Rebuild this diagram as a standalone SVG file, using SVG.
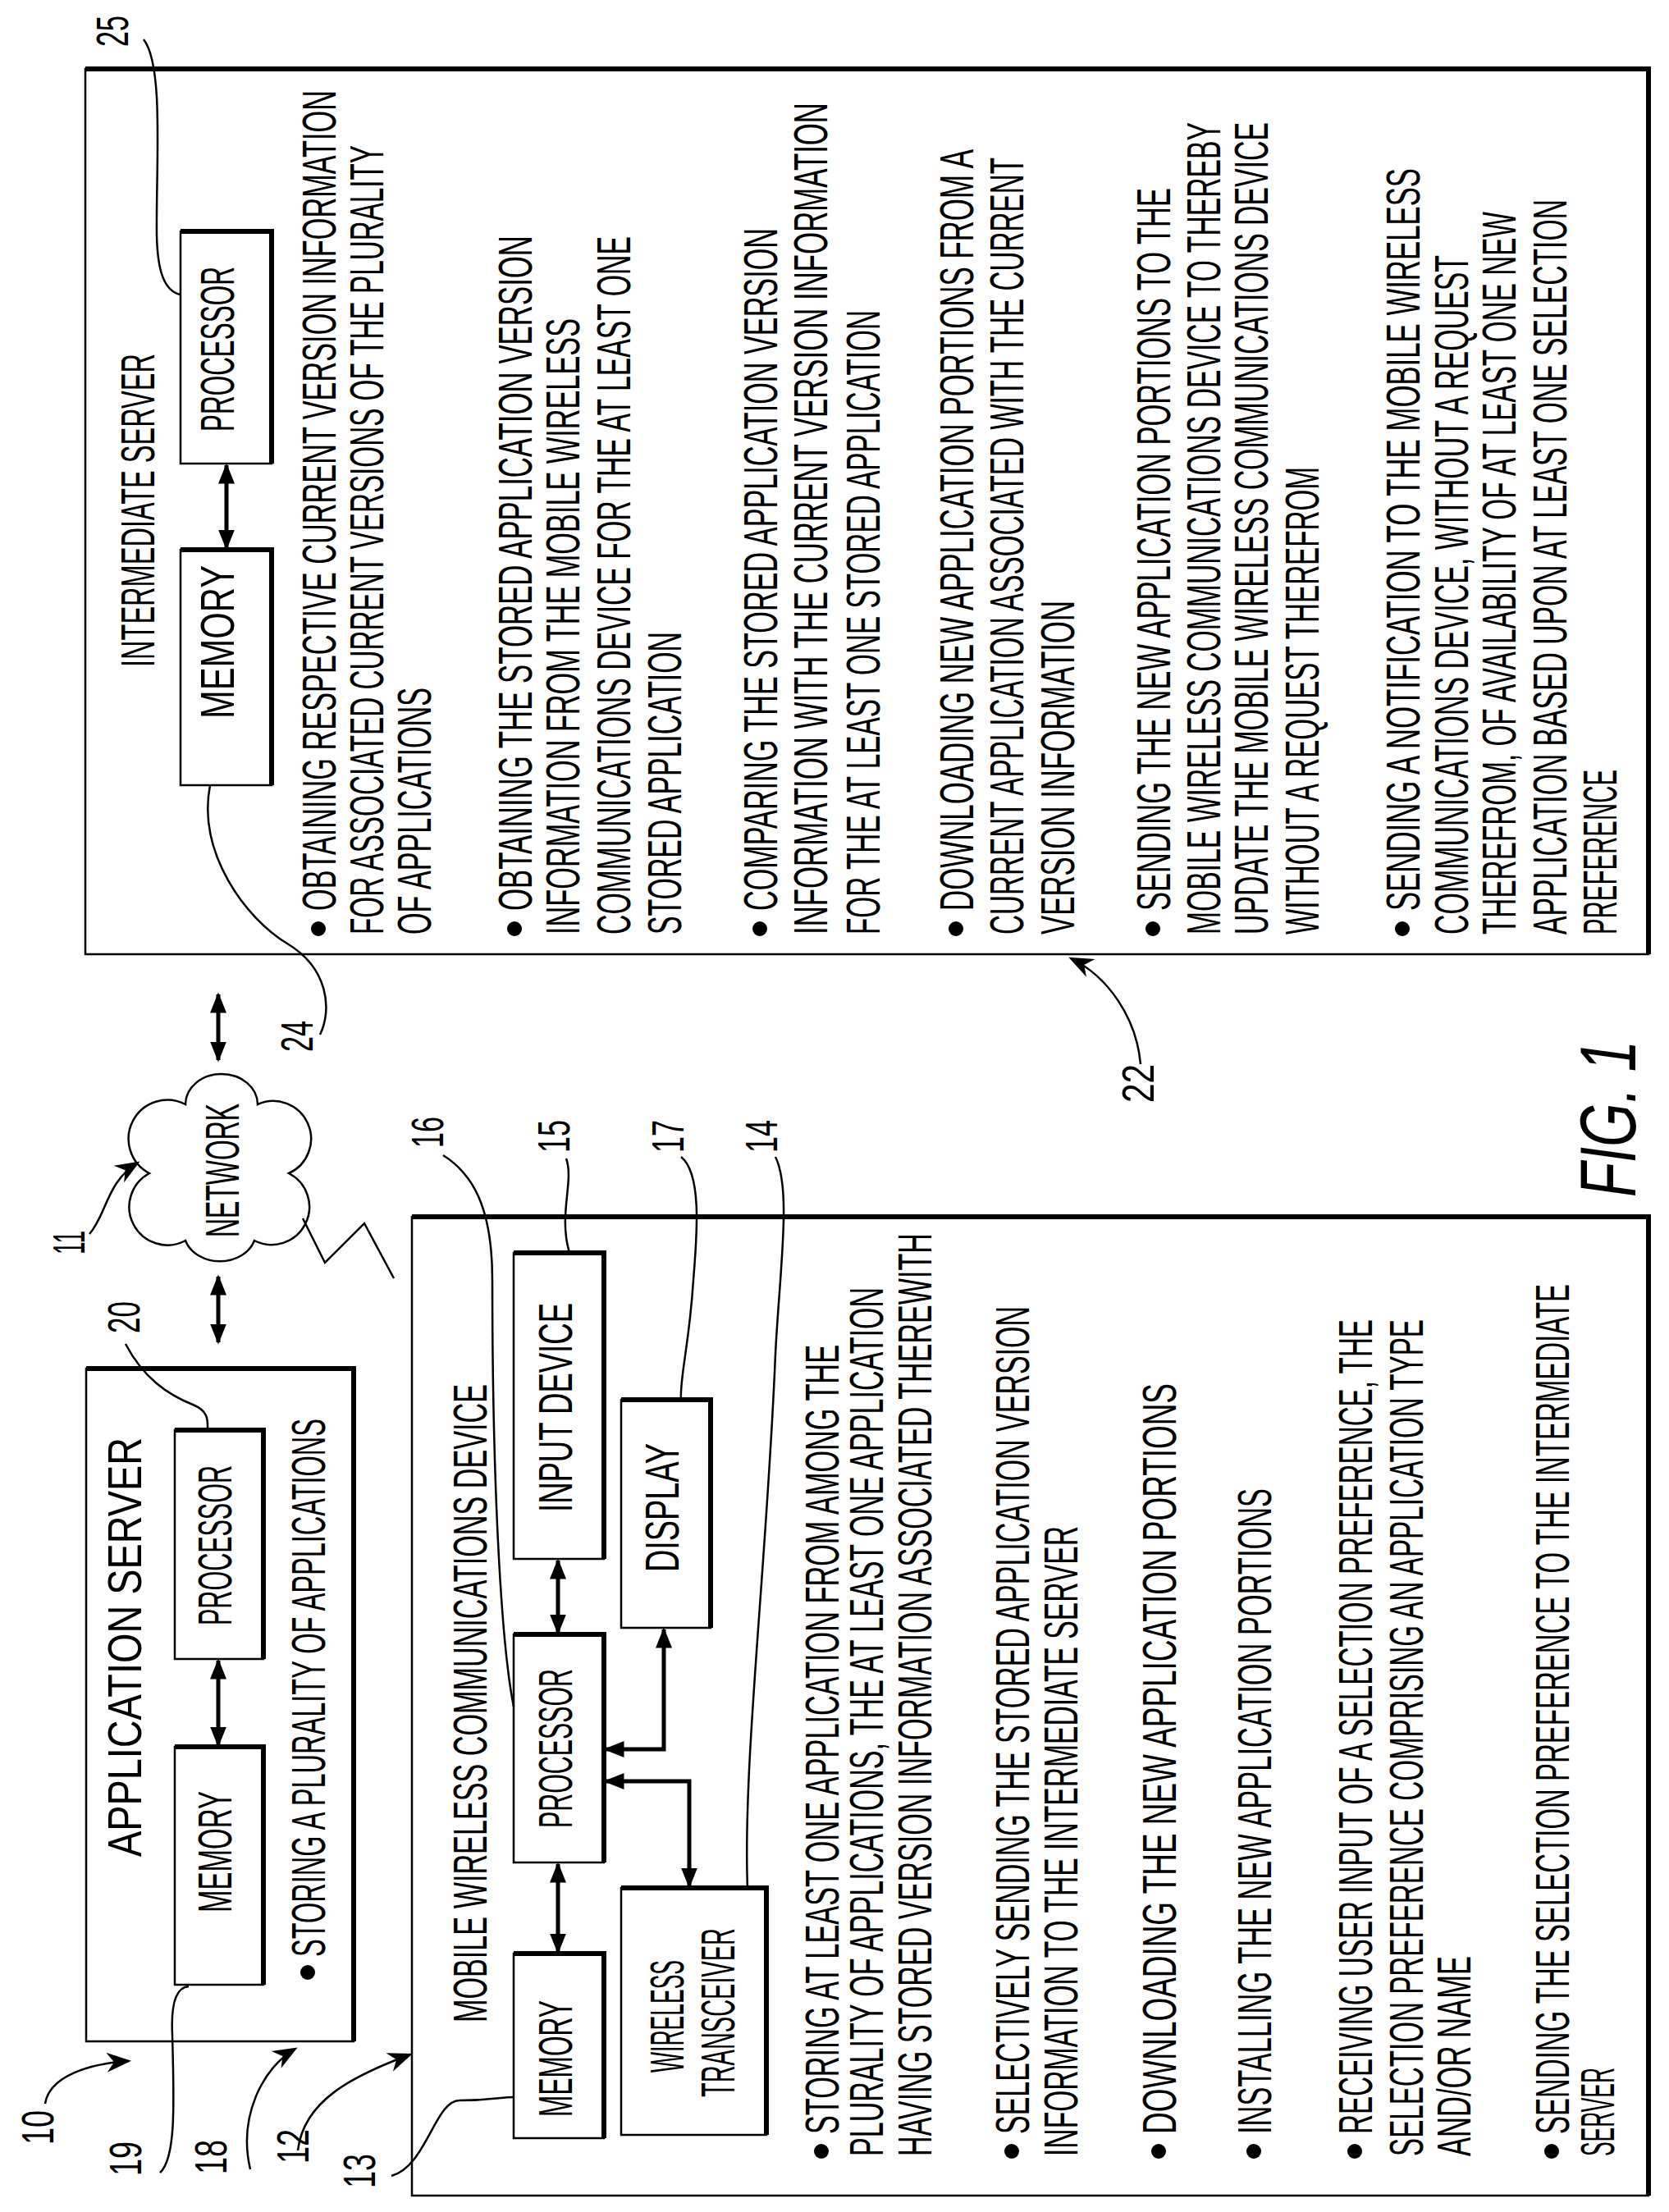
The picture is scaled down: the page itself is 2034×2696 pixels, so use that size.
<svg xmlns="http://www.w3.org/2000/svg" width="2034" height="2696" viewBox="0 0 2034 2696">
<style>
.t{font-family:"Liberation Sans Narrow","Liberation Sans",Arial,sans-serif;font-size:58px;fill:#000}
.lb{font-family:"Liberation Sans Narrow","Liberation Sans",Arial,sans-serif;font-size:56px;fill:#000}
.box{fill:#fff;stroke:#000;stroke-width:2.5}
.sh{stroke:#000;stroke-width:6;fill:none}
.ln{fill:none;stroke:#000;stroke-width:2.5}
.ar{fill:none;stroke:#000;stroke-width:5}
.dot{fill:#000}
</style>
<defs>
<marker id="h" viewBox="0 0 10 10" refX="9" refY="5" markerWidth="5" markerHeight="5" orient="auto-start-reverse" markerUnits="strokeWidth"><path d="M0,1 L10,5 L0,9 z" fill="#000"/></marker>
<marker id="hs" viewBox="0 0 10 10" refX="9" refY="5" markerWidth="12" markerHeight="12" orient="auto" markerUnits="strokeWidth"><path d="M0,1 L10,5 L0,9 L3,5 z" fill="#000"/></marker>
</defs>

<g id="intermediate-server">
<rect class="box" x="104" y="84" width="1905" height="1079"/>
<path class="sh" d="M104,84 H2009 V1163"/>
<text class="t" transform="translate(188,813) rotate(-90)" textLength="382" lengthAdjust="spacingAndGlyphs">INTERMEDIATE SERVER</text>
<g id="int-memory"><rect class="box" x="220" y="670" width="111" height="287"/><path class="sh" d="M220,670 H331 V957"/>
<text class="t" transform="translate(285,876) rotate(-90)" textLength="187" lengthAdjust="spacingAndGlyphs">MEMORY</text></g>
<g id="int-processor"><rect class="box" x="220" y="282" width="111" height="283"/><path class="sh" d="M220,282 H331 V565"/>
<text class="t" transform="translate(285,526) rotate(-90)" textLength="201" lengthAdjust="spacingAndGlyphs">PROCESSOR</text></g>
<circle class="dot" cx="388" cy="1132" r="9"/>
<text class="t" transform="translate(409,1110) rotate(-90)" textLength="1000" lengthAdjust="spacingAndGlyphs">OBTAINING RESPECTIVE CURRENT VERSION INFORMATION</text>
<text class="t" transform="translate(467,1139) rotate(-90)" textLength="962" lengthAdjust="spacingAndGlyphs">FOR ASSOCIATED CURRENT VERSIONS OF THE PLURALITY</text>
<text class="t" transform="translate(525,1139) rotate(-90)" textLength="301" lengthAdjust="spacingAndGlyphs">OF APPLICATIONS</text>
<circle class="dot" cx="627" cy="1132" r="9"/>
<text class="t" transform="translate(648,1110) rotate(-90)" textLength="823" lengthAdjust="spacingAndGlyphs">OBTAINING THE STORED APPLICATION VERSION</text>
<text class="t" transform="translate(706,1139) rotate(-90)" textLength="751" lengthAdjust="spacingAndGlyphs">INFORMATION FROM THE MOBILE WIRELESS</text>
<text class="t" transform="translate(768,1139) rotate(-90)" textLength="851" lengthAdjust="spacingAndGlyphs">COMMUNICATIONS DEVICE FOR THE AT LEAST ONE</text>
<text class="t" transform="translate(830,1139) rotate(-90)" textLength="369" lengthAdjust="spacingAndGlyphs">STORED APPLICATION</text>
<circle class="dot" cx="926" cy="1132" r="9"/>
<text class="t" transform="translate(947,1110) rotate(-90)" textLength="832" lengthAdjust="spacingAndGlyphs">COMPARING THE STORED APPLICATION VERSION</text>
<text class="t" transform="translate(1008,1139) rotate(-90)" textLength="1014" lengthAdjust="spacingAndGlyphs">INFORMATION WITH THE CURRENT VERSION INFORMATION</text>
<text class="t" transform="translate(1072,1139) rotate(-90)" textLength="761" lengthAdjust="spacingAndGlyphs">FOR THE AT LEAST ONE STORED APPLICATION</text>
<circle class="dot" cx="1165" cy="1132" r="9"/>
<text class="t" transform="translate(1186,1110) rotate(-90)" textLength="928" lengthAdjust="spacingAndGlyphs">DOWNLOADING NEW APPLICATION PORTIONS FROM A</text>
<text class="t" transform="translate(1247,1139) rotate(-90)" textLength="947" lengthAdjust="spacingAndGlyphs">CURRENT APPLICATION ASSOCIATED WITH THE CURRENT</text>
<text class="t" transform="translate(1309,1139) rotate(-90)" textLength="407" lengthAdjust="spacingAndGlyphs">VERSION INFORMATION</text>
<circle class="dot" cx="1405" cy="1132" r="9"/>
<text class="t" transform="translate(1426,1110) rotate(-90)" textLength="881" lengthAdjust="spacingAndGlyphs">SENDING THE NEW APPLICATION PORTIONS TO THE</text>
<text class="t" transform="translate(1487,1139) rotate(-90)" textLength="990" lengthAdjust="spacingAndGlyphs">MOBILE WIRELESS COMMUNICATIONS DEVICE TO THEREBY</text>
<text class="t" transform="translate(1545,1139) rotate(-90)" textLength="990" lengthAdjust="spacingAndGlyphs">UPDATE THE MOBILE WIRELESS COMMUNICATIONS DEVICE</text>
<text class="t" transform="translate(1607,1139) rotate(-90)" textLength="570" lengthAdjust="spacingAndGlyphs">WITHOUT A REQUEST THEREFROM</text>
<circle class="dot" cx="1709" cy="1132" r="9"/>
<text class="t" transform="translate(1730,1110) rotate(-90)" textLength="905" lengthAdjust="spacingAndGlyphs">SENDING A NOTIFICATION TO THE MOBILE WIRELESS</text>
<text class="t" transform="translate(1789,1139) rotate(-90)" textLength="828" lengthAdjust="spacingAndGlyphs">COMMUNICATIONS DEVICE, WITHOUT A REQUEST</text>
<text class="t" transform="translate(1847,1139) rotate(-90)" textLength="881" lengthAdjust="spacingAndGlyphs">THEREFROM, OF AVAILABILITY OF AT LEAST ONE NEW</text>
<text class="t" transform="translate(1909,1139) rotate(-90)" textLength="896" lengthAdjust="spacingAndGlyphs">APPLICATION BASED UPON AT LEAST ONE SELECTION</text>
<text class="t" transform="translate(1970,1139) rotate(-90)" textLength="201" lengthAdjust="spacingAndGlyphs">PREFERENCE</text>
</g>

<g id="network">
<path class="ln" d="M226,1346 A44,37 0 0 1 314,1346 A46,46 0 0 1 352,1430 A46,46 0 0 1 310,1512 A44,36 0 0 1 226,1512 A46,46 0 0 1 182,1430 A46,46 0 0 1 226,1346 Z" fill="#fff"/>
<text class="t" transform="translate(291,1508) rotate(-90)" textLength="163" lengthAdjust="spacingAndGlyphs">NETWORK</text>
</g>

<g id="application-server">
<rect class="box" x="105" y="1668" width="326" height="820"/>
<path class="sh" d="M105,1668 H431 V2488"/>
<text class="t" transform="translate(172,2263) rotate(-90)" textLength="511" lengthAdjust="spacingAndGlyphs">APPLICATION SERVER</text>
<g id="app-processor"><rect class="box" x="213" y="1743" width="108" height="279"/><path class="sh" d="M213,1743 H321 V2022"/>
<text class="t" transform="translate(282,1981) rotate(-90)" textLength="195" lengthAdjust="spacingAndGlyphs">PROCESSOR</text></g>
<g id="app-memory"><rect class="box" x="213" y="2129" width="108" height="290"/><path class="sh" d="M213,2129 H321 V2419"/>
<text class="t" transform="translate(282,2331) rotate(-90)" textLength="148" lengthAdjust="spacingAndGlyphs">MEMORY</text></g>
<circle class="dot" cx="375" cy="2404" r="9"/>
<text class="t" transform="translate(396,2385) rotate(-90)" textLength="656" lengthAdjust="spacingAndGlyphs">STORING A PLURALITY OF APPLICATIONS</text>
</g>

<g id="mobile-device">
<rect class="box" x="502" y="1483" width="1507" height="1193"/>
<path class="sh" d="M502,1483 H2009 V2676"/>
<text class="t" transform="translate(593,2465) rotate(-90)" textLength="778" lengthAdjust="spacingAndGlyphs">MOBILE WIRELESS COMMUNICATIONS DEVICE</text>
<g id="mob-memory"><rect class="box" x="626" y="2381" width="110" height="225"/><path class="sh" d="M626,2381 H736 V2606"/>
<text class="t" transform="translate(697,2580) rotate(-90)" textLength="142" lengthAdjust="spacingAndGlyphs">MEMORY</text></g>
<g id="mob-processor"><rect class="box" x="626" y="1992" width="110" height="278"/><path class="sh" d="M626,1992 H736 V2270"/>
<text class="t" transform="translate(697,2228) rotate(-90)" textLength="194" lengthAdjust="spacingAndGlyphs">PROCESSOR</text></g>
<g id="mob-input"><rect class="box" x="626" y="1527" width="110" height="373"/><path class="sh" d="M626,1527 H736 V1900"/>
<text class="t" transform="translate(697,1843) rotate(-90)" textLength="255" lengthAdjust="spacingAndGlyphs">INPUT DEVICE</text></g>
<g id="mob-display"><rect class="box" x="757" y="1706" width="109" height="278"/><path class="sh" d="M757,1706 H866 V1984"/>
<text class="t" transform="translate(827,1916) rotate(-90)" textLength="157" lengthAdjust="spacingAndGlyphs">DISPLAY</text></g>
<g id="mob-transceiver"><rect class="box" x="757" y="2301" width="177" height="301"/><path class="sh" d="M757,2301 H934 V2602"/>
<text class="t" transform="translate(833,2526) rotate(-90)" textLength="137" lengthAdjust="spacingAndGlyphs">WIRELESS</text>
<text class="t" transform="translate(895,2556) rotate(-90)" textLength="206" lengthAdjust="spacingAndGlyphs">TRANSCEIVER</text></g>
<circle class="dot" cx="1001" cy="2622" r="9"/>
<text class="t" transform="translate(1022,2601) rotate(-90)" textLength="962" lengthAdjust="spacingAndGlyphs">STORING AT LEAST ONE APPLICATION FROM AMONG THE</text>
<text class="t" transform="translate(1076,2628) rotate(-90)" textLength="1059" lengthAdjust="spacingAndGlyphs">PLURALITY OF APPLICATIONS, THE AT LEAST ONE APPLICATION</text>
<text class="t" transform="translate(1135,2628) rotate(-90)" textLength="1125" lengthAdjust="spacingAndGlyphs">HAVING STORED VERSION INFORMATION ASSOCIATED THEREWITH</text>
<circle class="dot" cx="1233" cy="2622" r="9"/>
<text class="t" transform="translate(1254,2601) rotate(-90)" textLength="1009" lengthAdjust="spacingAndGlyphs">SELECTIVELY SENDING THE STORED APPLICATION VERSION</text>
<text class="t" transform="translate(1313,2628) rotate(-90)" textLength="768" lengthAdjust="spacingAndGlyphs">INFORMATION TO THE INTERMEDIATE SERVER</text>
<circle class="dot" cx="1412" cy="2622" r="9"/>
<text class="t" transform="translate(1433,2601) rotate(-90)" textLength="915" lengthAdjust="spacingAndGlyphs">DOWNLOADING THE NEW APPLICATION PORTIONS</text>
<circle class="dot" cx="1528" cy="2622" r="9"/>
<text class="t" transform="translate(1549,2601) rotate(-90)" textLength="787" lengthAdjust="spacingAndGlyphs">INSTALLING THE NEW APPLICATION PORTIONS</text>
<circle class="dot" cx="1651" cy="2622" r="9"/>
<text class="t" transform="translate(1672,2601) rotate(-90)" textLength="993" lengthAdjust="spacingAndGlyphs">RECEIVING USER INPUT OF A SELECTION PREFERENCE, THE</text>
<text class="t" transform="translate(1734,2628) rotate(-90)" textLength="1020" lengthAdjust="spacingAndGlyphs">SELECTION PREFERENCE COMPRISING AN APPLICATION TYPE</text>
<text class="t" transform="translate(1792,2628) rotate(-90)" textLength="244" lengthAdjust="spacingAndGlyphs">AND/OR NAME</text>
<circle class="dot" cx="1891" cy="2622" r="9"/>
<text class="t" transform="translate(1912,2601) rotate(-90)" textLength="1036" lengthAdjust="spacingAndGlyphs">SENDING THE SELECTION PREFERENCE TO THE INTERMEDIATE</text>
<text class="t" transform="translate(1967,2628) rotate(-90)" textLength="108" lengthAdjust="spacingAndGlyphs">SERVER</text>
</g>

<g id="connectors">
<path class="ar" marker-start="url(#h)" marker-end="url(#h)" d="M276,567 L276,668"/>
<path class="ar" marker-start="url(#h)" marker-end="url(#h)" d="M266,1212 L266,1292"/>
<path class="ar" marker-start="url(#h)" marker-end="url(#h)" d="M266,1556 L266,1636"/>
<path class="ar" marker-start="url(#h)" marker-end="url(#h)" d="M266,2024 L266,2127"/>
<path class="ar" marker-start="url(#h)" marker-end="url(#h)" d="M680,2272 L680,2379"/>
<path class="ar" marker-start="url(#h)" marker-end="url(#h)" d="M680,1902 L680,1990"/>
<path class="ar" marker-start="url(#h)" marker-end="url(#h)" d="M738,2132 L809,2132 L809,1986"/>
<path class="ar" marker-start="url(#h)" marker-end="url(#h)" d="M738,2171 L840,2171 L840,2299"/>
<path class="ln" d="M369,1485 L396,1539 L444,1491 L480,1558"/>
<path class="ln" marker-end="url(#hs)" d="M109,1504 C130,1480 130,1440 168,1417"/>
<path class="ln" marker-end="url(#hs)" d="M55,2564 C60,2530 110,2515 157,2512"/>
<path class="ln" marker-end="url(#hs)" d="M305,2644 C290,2580 320,2520 360,2497"/>
<path class="ln" marker-end="url(#hs)" d="M363,2621 C370,2560 430,2530 500,2504"/>
<path class="ln" marker-end="url(#hs)" d="M1390,1297 C1385,1240 1350,1190 1305,1168"/>
<path class="ln" d="M175,48 C200,80 190,200 191,287 C192,330 200,355 220,359"/>
<path class="ln" d="M256,957 C240,1040 300,1120 350,1150 C400,1180 405,1230 390,1261"/>
<path class="ln" d="M153,1638 C175,1680 205,1700 235,1712 C255,1720 253,1732 253,1743"/>
<path class="ln" d="M195,2648 C215,2630 212,2560 210,2480 C208,2440 215,2422 230,2421"/>
<path class="ln" d="M477,2652 C520,2640 530,2560 560,2560 C600,2560 610,2556 626,2556"/>
<path class="ln" d="M540,1408 C575,1430 600,1470 600,1560 C600,1800 610,2000 626,2080"/>
<path class="ln" d="M690,1412 C700,1440 680,1480 694,1527"/>
<path class="ln" d="M830,1410 C855,1430 850,1500 845,1560 C840,1640 828,1680 830,1706"/>
<path class="ln" d="M945,1410 C965,1450 950,1550 945,1650 C935,1900 905,2150 911,2301"/>
</g>

<g id="labels">
<text class="lb" transform="translate(156,57) rotate(-90)" textLength="38" lengthAdjust="spacingAndGlyphs">25</text>
<text class="lb" transform="translate(381,1282) rotate(-90)" textLength="38" lengthAdjust="spacingAndGlyphs">24</text>
<text class="lb" transform="translate(103,1529) rotate(-90)" textLength="29" lengthAdjust="spacingAndGlyphs">11</text>
<text class="lb" transform="translate(170,1625) rotate(-90)" textLength="39" lengthAdjust="spacingAndGlyphs">20</text>
<text class="lb" transform="translate(540,1399) rotate(-90)" textLength="38" lengthAdjust="spacingAndGlyphs">16</text>
<text class="lb" transform="translate(694,1405) rotate(-90)" textLength="40" lengthAdjust="spacingAndGlyphs">15</text>
<text class="lb" transform="translate(833,1405) rotate(-90)" textLength="40" lengthAdjust="spacingAndGlyphs">17</text>
<text class="lb" transform="translate(947,1405) rotate(-90)" textLength="40" lengthAdjust="spacingAndGlyphs">14</text>
<text class="lb" transform="translate(65,2614) rotate(-90)" textLength="42" lengthAdjust="spacingAndGlyphs">10</text>
<text class="lb" transform="translate(172,2652) rotate(-90)" textLength="42" lengthAdjust="spacingAndGlyphs">19</text>
<text class="lb" transform="translate(276,2650) rotate(-90)" textLength="42" lengthAdjust="spacingAndGlyphs">18</text>
<text class="lb" transform="translate(376,2637) rotate(-90)" textLength="42" lengthAdjust="spacingAndGlyphs">12</text>
<text class="lb" transform="translate(457,2667) rotate(-90)" textLength="42" lengthAdjust="spacingAndGlyphs">13</text>
<text class="lb" transform="translate(1406,1344) rotate(-90)" textLength="47" lengthAdjust="spacingAndGlyphs">22</text>
<text transform="translate(1993,1459) rotate(-90)" font-family="Liberation Sans Narrow, Liberation Sans, Arial, sans-serif" font-size="96" font-style="italic" textLength="191" lengthAdjust="spacingAndGlyphs">FIG. 1</text>
</g>
</svg>
